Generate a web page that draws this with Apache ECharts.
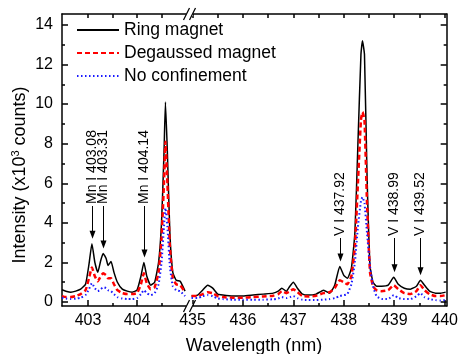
<!DOCTYPE html>
<html>
<head>
<meta charset="utf-8">
<script src="https://cdn.jsdelivr.net/npm/echarts@6/dist/echarts.min.js"></script>
<style>
  html, body { margin: 0; padding: 0; background: #fff; }
  #c { width: 461px; height: 354px; }
</style>
</head>
<body>
<div id="c"></div>
<script>
// Emission spectra, broken wavelength axis: 402.5–405 nm and 435–440 nm
const seriesNames = ['Ring magnet', 'Degaussed magnet', 'No confinement'];

// Left segment (Mn I lines)
const wlLeft = [402.47, 402.55, 402.65, 402.75, 402.85, 402.95, 403.02, 403.08, 403.14, 403.2,
                403.26, 403.31, 403.37, 403.41, 403.47, 403.53, 403.6, 403.7, 403.8, 403.9, 404.0,
                404.08, 404.14, 404.2, 404.28, 404.36, 404.44, 404.5, 404.55, 404.58, 404.62,
                404.67, 404.73, 404.8, 404.88, 404.98];
const ringLeft = [0.62, 0.55, 0.5, 0.55, 0.65, 0.9, 1.9, 2.95, 2.0, 1.5,
                  2.1, 2.45, 2.2, 1.85, 2.05, 1.5, 1.0, 0.65, 0.55, 0.5, 0.6,
                  1.3, 2.0, 1.3, 0.85, 1.0, 2.0, 4.0, 7.5, 10.1, 7.5,
                  3.5, 1.5, 1.1, 1.05, 0.55];
const degaussLeft = [0.3, 0.25, 0.25, 0.3, 0.4, 0.6, 1.2, 1.75, 1.3, 1.05,
                     1.3, 1.45, 1.35, 1.2, 1.2, 0.9, 0.6, 0.45, 0.4, 0.4, 0.45,
                     0.9, 1.45, 0.95, 0.65, 0.75, 1.5, 3.2, 6.0, 8.1, 6.0,
                     2.8, 1.2, 0.9, 0.85, 0.5];
const noConfLeft = [0.22, 0.18, 0.15, 0.17, 0.22, 0.35, 0.65, 0.95, 0.7, 0.55,
                    0.65, 0.75, 0.7, 0.6, 0.55, 0.4, 0.25, 0.18, 0.15, 0.15, 0.2,
                    0.4, 0.6, 0.45, 0.35, 0.45, 0.9, 2.0, 3.8, 4.75, 3.8,
                    1.8, 0.8, 0.6, 0.55, 0.3];

// Right segment (V I lines)
const wlRight = [434.98, 435.1, 435.2, 435.3, 435.4, 435.5, 435.6, 435.8, 436.0, 436.2,
                 436.4, 436.6, 436.7, 436.77, 436.86, 436.93, 437.0, 437.08, 437.18, 437.3,
                 437.45, 437.6, 437.72, 437.82, 437.92, 438.0, 438.07, 438.15, 438.22, 438.28,
                 438.34, 438.37, 438.41, 438.46, 438.52, 438.58, 438.65, 438.75, 438.88, 438.99,
                 439.08, 439.2, 439.32, 439.44, 439.52, 439.6, 439.7, 439.82, 439.92, 440.02];
const ringRight = [0.3, 0.35, 0.6, 0.85, 0.7, 0.4, 0.35, 0.3, 0.3, 0.35,
                   0.4, 0.45, 0.55, 0.7, 0.55, 0.8, 1.0, 0.7, 0.4, 0.35,
                   0.4, 0.6, 0.45, 0.85, 1.8, 1.35, 1.2, 1.7, 3.5, 8.0,
                   12.5, 13.2, 12.5, 6.5, 1.8, 1.0, 0.8, 0.8, 0.85, 1.25,
                   0.9, 0.7, 0.65, 0.8, 1.1, 0.85, 0.55, 0.45, 0.45, 0.5];
const degaussRight = [0.3, 0.3, 0.4, 0.5, 0.45, 0.3, 0.25, 0.22, 0.22, 0.25,
                      0.28, 0.32, 0.4, 0.55, 0.45, 0.55, 0.65, 0.5, 0.3, 0.28,
                      0.32, 0.45, 0.5, 0.7, 1.1, 1.0, 0.9, 1.3, 2.8, 6.0,
                      9.2, 9.6, 9.2, 5.0, 1.5, 0.8, 0.6, 0.55, 0.6, 0.85,
                      0.65, 0.45, 0.4, 0.55, 0.85, 0.6, 0.4, 0.3, 0.3, 0.35];
const noConfRight = [0.2, 0.2, 0.3, 0.35, 0.3, 0.18, 0.15, 0.12, 0.12, 0.12,
                     0.12, 0.14, 0.18, 0.25, 0.2, 0.25, 0.3, 0.2, 0.12, 0.1,
                     0.1, 0.12, 0.15, 0.2, 0.3, 0.35, 0.4, 0.9, 2.0, 3.8,
                     5.1, 5.3, 5.0, 3.5, 1.8, 0.8, 0.3, 0.15, 0.15, 0.35,
                     0.2, 0.15, 0.15, 0.3, 0.45, 0.25, 0.15, 0.1, 0.08, 0.1];

// Tick labels
const xTicksLeft = [403, 404];
const xMinorLeft = [403.5, 404.5];
const xTicksRight = [435, 436, 437, 438, 439, 440];
const xMinorRight = [435.5, 436.5, 437.5, 438.5, 439.5];
const yTicks = [0, 2, 4, 6, 8, 10, 12, 14];
const yMinor = [1, 3, 5, 7, 9, 11, 13];

// Line identifications
const lineWl = [403.08, 403.31, 404.14, 437.92, 438.99, 439.52];
const lineText = ['Mn I 403.08', 'Mn I 403.31', 'Mn I 404.14', 'V I 437.92', 'V I 438.99', 'V I 439.52'];

const FONT = '"Liberation Sans", Arial, sans-serif';
const INK = '#000';
const COLORS = ['#000000', '#ff0000', '#1a1aff'];
const LINE_STYLES = [
  { width: 1.5, type: 'solid' },
  { width: 2.5, type: [5, 3] },
  { width: 2, type: [1.5, 2.5] }
];

const pair = (xs, ys) => xs.map((x, i) => [x, ys[i]]);

function xAxisCfg(grid, min, max, pos, ticks, len, labels, showLine) {
  return {
    type: 'value', gridIndex: grid, position: pos, min: min, max: max,
    axisLine: { show: showLine, onZero: false, lineStyle: { color: INK, width: 1.5 } },
    axisTick: { show: true, inside: true, length: len, customValues: ticks, lineStyle: { color: INK, width: 1.5 } },
    axisLabel: labels ? { show: true, customValues: labels, color: INK, fontSize: 16, fontFamily: FONT, margin: 7 } : { show: false },
    splitLine: { show: false }
  };
}
function yAxisCfg(grid, pos, ticks, len, labels, showLine) {
  return {
    type: 'value', gridIndex: grid, position: pos, min: -0.2, max: 14.55,
    axisLine: { show: showLine, onZero: false, lineStyle: { color: INK, width: 1.5 } },
    axisTick: { show: true, inside: true, length: len, customValues: ticks, lineStyle: { color: INK, width: 1.5 } },
    axisLabel: labels ? { show: true, customValues: labels, color: INK, fontSize: 16, fontFamily: FONT, margin: 9 } : { show: false },
    splitLine: { show: false }
  };
}

const leftMin = 402.47, leftMax = 405.04, rightMin = 434.95, rightMax = 440.04;

const xAxes = [
  xAxisCfg(0, leftMin, leftMax, 'bottom', xTicksLeft, 6, xTicksLeft, true),
  xAxisCfg(0, leftMin, leftMax, 'bottom', xMinorLeft, 3, null, false),
  xAxisCfg(0, leftMin, leftMax, 'top', xTicksLeft.concat(xMinorLeft), 4, null, true),
  xAxisCfg(1, rightMin, rightMax, 'bottom', xTicksRight, 6, xTicksRight, true),
  xAxisCfg(1, rightMin, rightMax, 'bottom', xMinorRight, 3, null, false),
  xAxisCfg(1, rightMin, rightMax, 'top', xTicksRight.concat(xMinorRight), 4, null, true)
];
const yAxes = [
  yAxisCfg(0, 'left', yTicks, 6, yTicks, true),
  yAxisCfg(0, 'left', yMinor, 3, null, false),
  yAxisCfg(1, 'right', yTicks, 6, null, true),
  yAxisCfg(1, 'right', yMinor, 3, null, false)
];

const leftSets = [ringLeft, degaussLeft, noConfLeft];
const rightSets = [ringRight, degaussRight, noConfRight];
const series = [];
seriesNames.forEach((name, k) => {
  const base = {
    name: name, type: 'line', showSymbol: false, symbol: 'none', silent: true,
    smooth: 0.15, animation: false,
    lineStyle: Object.assign({ color: COLORS[k] }, LINE_STYLES[k]),
    itemStyle: { color: COLORS[k] }, z: 2 + k
  };
  series.push(Object.assign({}, base, { xAxisIndex: 0, yAxisIndex: 0, data: pair(wlLeft, leftSets[k]) }));
  series.push(Object.assign({}, base, { xAxisIndex: 3, yAxisIndex: 2, data: pair(wlRight, rightSets[k]) }));
});

const chart = echarts.init(document.getElementById('c'), null, { renderer: 'canvas' });
chart.setOption({
  animation: false,
  backgroundColor: '#fff',
  grid: [
    { left: 62, top: 14, width: 126, height: 292 },
    { left: 190, top: 14, width: 258, height: 292 }
  ],
  xAxis: xAxes,
  yAxis: yAxes,
  legend: {
    data: seriesNames, orient: 'vertical', left: 71, top: 16,
    itemWidth: 42, itemHeight: 14, itemGap: 5, selectedMode: false,
    itemStyle: { opacity: 0 },
    textStyle: { fontSize: 17.5, fontFamily: FONT, color: INK }
  },
  series: series
});

// Overlay: line identifications, axis break marks and axis titles
const g = [];
lineWl.forEach((wl, i) => {
  const left = wl < 420;
  const xs = left ? wlLeft : wlRight;
  const ys = left ? ringLeft : rightSets[0];
  const peak = ys[xs.indexOf(wl)];
  const tip = chart.convertToPixel({ gridIndex: left ? 0 : 1 }, [wl, peak]);
  const x = Math.round(tip[0]) + 0.5;
  const tipY = tip[1] - 5;
  const baseY = left ? 206 : 238;
  g.push({ type: 'line', shape: { x1: x, y1: baseY, x2: x, y2: tipY - 7 }, style: { stroke: INK, lineWidth: 1 }, silent: true });
  g.push({ type: 'polygon', shape: { points: [[x - 3, tipY - 8], [x + 3, tipY - 8], [x, tipY]] }, style: { fill: INK }, silent: true });
  g.push({ type: 'text', x: x, y: baseY - 2, rotation: Math.PI / 2, silent: true,
           style: { text: lineText[i], font: '14px ' + FONT, fill: INK, align: 'left', verticalAlign: 'middle' } });
});

// "//" break marks on the bottom and top frame
[306, 14].forEach(yy => {
  g.push({ type: 'rect', shape: { x: 186, y: yy - 2, width: 7, height: 4 }, style: { fill: '#fff' }, silent: true, z: 50 });
  [-3, 3].forEach(dx => {
    g.push({ type: 'line', shape: { x1: 189.5 + dx - 3, y1: yy + 6, x2: 189.5 + dx + 3, y2: yy - 6 },
             style: { stroke: INK, lineWidth: 1.3 }, silent: true, z: 51 });
  });
});

g.push({ type: 'text', x: 20, y: 175, rotation: Math.PI / 2, silent: true,
         style: { text: 'Intensity (x10{s|3} counts)', font: '18px ' + FONT, fill: INK,
                  align: 'center', verticalAlign: 'middle',
                  rich: { s: { fontSize: 11, fontFamily: FONT, fill: INK, padding: [0, 0, 9, 0] } } } });
g.push({ type: 'text', x: 254, y: 346, silent: true,
         style: { text: 'Wavelength (nm)', font: '18px ' + FONT, fill: INK, align: 'center', verticalAlign: 'middle' } });

chart.setOption({ graphic: g });
</script>
</body>
</html>
